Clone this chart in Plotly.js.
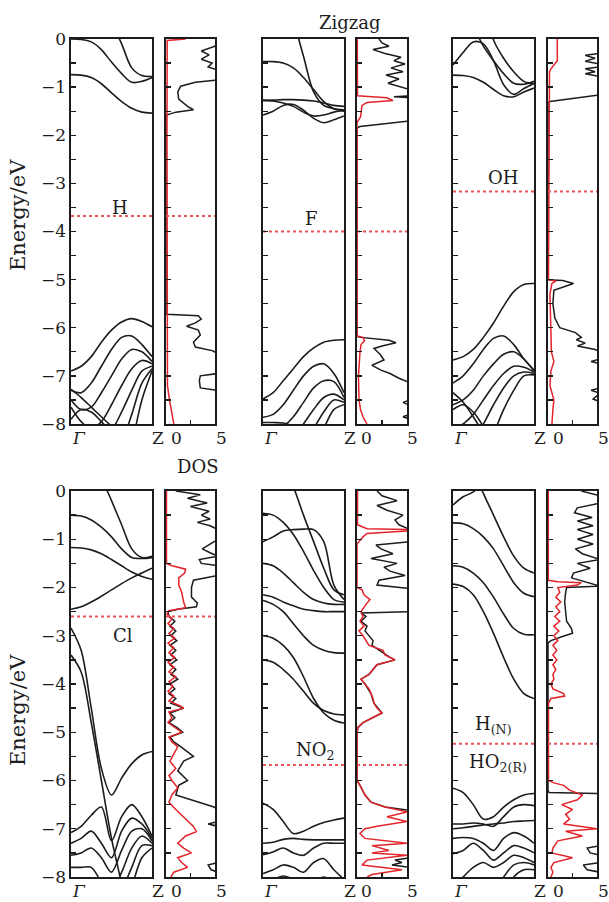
<!DOCTYPE html>
<html><head><meta charset="utf-8">
<script src="https://cdn.plot.ly/plotly-3.0.1.min.js"></script>
<style>html,body{margin:0;padding:0;background:#fff}</style>
</head><body><div id="chart" style="width:609px;height:902px"></div>
<script>
// k-points from Γ (0) to Z (1)
const K = [0,0.125,0.25,0.375,0.5,0.625,0.75,0.875,1];

// ---- band energies (eV) on K ----
const bandsH = [
 [0,-0.01,-0.06,-0.22,-0.48,-0.72,-0.9,-0.88,-0.8],
 [2.5,2.0,1.4,0.85,0.35,-0.1,-0.6,-0.76,-0.78],
 [-0.74,-0.75,-0.8,-0.93,-1.12,-1.3,-1.44,-1.52,-1.54],
 [-6.9,-6.8,-6.6,-6.3,-6.05,-5.88,-5.81,-5.87,-5.98],
 [-7.3,-7.35,-7.15,-6.8,-6.45,-6.2,-6.17,-6.35,-6.6],
 [-7.5,-7.7,-7.65,-7.35,-7.0,-6.65,-6.45,-6.5,-6.7],
 [-7.65,-7.95,-8.1,-7.95,-7.6,-7.2,-6.85,-6.68,-6.75],
 [-8.3,-8.4,-8.5,-8.4,-8.15,-7.75,-7.3,-6.9,-6.8],
 [-8.8,-8.9,-9,-9,-8.8,-8.4,-7.8,-7.15,-6.85],
 [-9.5,-9.5,-9.5,-9.5,-9.4,-9.0,-8.4,-7.5,-6.9],
 [-7.28,-7.45,-7.65,-7.85,-8.05,-8.3,-8.5,-8.7,-8.9],
 [-7.9,-7.7,-7.75,-7.95,-8.2,-8.5,-8.8,-9.1,-9.4]
];
const bandsF = [
 [2.6,1.85,1.1,0.4,-0.36,-1.1,-1.38,-1.45,-1.47],
 [-0.47,-0.47,-0.5,-0.6,-0.8,-1.05,-1.3,-1.45,-1.5],
 [-1.28,-1.27,-1.26,-1.26,-1.27,-1.29,-1.33,-1.38,-1.4],
 [-1.58,-1.5,-1.38,-1.36,-1.48,-1.65,-1.74,-1.68,-1.6],
 [-1.27,-1.29,-1.33,-1.4,-1.52,-1.6,-1.58,-1.52,-1.48],
 [-7.48,-7.35,-7.1,-6.85,-6.6,-6.42,-6.3,-6.26,-6.25],
 [-7.86,-7.8,-7.6,-7.3,-7.0,-6.8,-6.75,-6.95,-7.35],
 [-8.1,-8.15,-8.05,-7.85,-7.55,-7.25,-7.1,-7.12,-7.45],
 [-8.6,-8.6,-8.5,-8.3,-8.0,-7.7,-7.45,-7.38,-7.5],
 [-9,-9,-8.95,-8.8,-8.5,-8.1,-7.75,-7.5,-7.55],
 [-9.5,-9.5,-9.5,-9.4,-9.1,-8.6,-8.1,-7.7,-7.6],
 [-7.97,-7.97,-7.98,-8.05,-8.2,-8.4,-8.6,-8.8,-9]
];
const bandsOH = [
 [-0.54,-0.28,-0.06,-0.1,-0.45,-0.95,-1.15,-1.03,-0.92],
 [1.4,0.9,0.3,-0.15,-0.45,-0.72,-0.92,-0.94,-0.88],
 [3,2.3,1.5,0.7,-0.02,-0.4,-0.68,-0.88,-0.93],
 [-0.75,-0.76,-0.8,-0.9,-1.05,-1.18,-1.2,-1.1,-1.02],
 [-6.67,-6.6,-6.45,-6.2,-5.9,-5.55,-5.25,-5.1,-5.08],
 [-7.15,-7.0,-6.75,-6.45,-6.22,-6.17,-6.35,-6.65,-6.88],
 [-7.6,-7.5,-7.3,-7.0,-6.75,-6.55,-6.5,-6.65,-6.9],
 [-8.1,-8.0,-7.8,-7.5,-7.2,-6.95,-6.8,-6.82,-6.92],
 [-8.6,-8.5,-8.3,-8.0,-7.6,-7.25,-7.0,-6.92,-6.95],
 [-9.2,-9.1,-8.9,-8.6,-8.2,-7.7,-7.3,-7.0,-6.98],
 [-7.35,-7.55,-7.85,-8.2,-8.6,-9,-9.4,-9.8,-10],
 [-7.7,-7.6,-7.75,-8.05,-8.4,-8.8,-9.2,-9.6,-10]
];
const bandsCl = [
 [2.5,1.7,1.0,0.3,-0.2,-0.7,-1.2,-1.38,-1.35],
 [-0.5,-0.52,-0.6,-0.75,-0.95,-1.2,-1.38,-1.4,-1.38],
 [-1.17,-1.18,-1.22,-1.3,-1.42,-1.55,-1.68,-1.77,-1.83],
 [-2.45,-2.4,-2.3,-2.18,-2.05,-1.92,-1.8,-1.7,-1.6],
 [-2.84,-3.3,-4.5,-5.75,-6.3,-5.95,-5.65,-5.47,-5.4],
 [-3.4,-3.75,-4.8,-6.0,-7.2,-8.15,-9.3,-10.5,-11.7],
 [-7.08,-6.95,-6.72,-6.55,-7.25,-6.75,-6.5,-6.75,-7.15],
 [-7.3,-7.2,-7.05,-7.3,-7.6,-7.05,-6.78,-6.9,-7.2],
 [-7.55,-7.5,-7.4,-7.6,-7.9,-7.45,-7.05,-7.0,-7.25],
 [-7.8,-7.8,-7.8,-8.1,-8.3,-7.9,-7.4,-7.15,-7.3],
 [-8.1,-8.2,-8.3,-8.5,-8.7,-8.3,-7.8,-7.35,-7.35],
 [-8.6,-8.6,-8.7,-8.9,-9,-8.7,-8.2,-7.6,-7.4]
];
const bandsNO2 = [
 [2.0,1.35,0.7,0.1,-0.5,-1.05,-1.6,-2.05,-2.15],
 [-0.46,-0.5,-0.65,-0.9,-1.25,-1.65,-2.0,-2.25,-2.3],
 [-1.05,-0.95,-0.83,-0.8,-0.79,-0.8,-1.05,-1.95,-2.25],
 [-1.5,-1.55,-1.7,-1.9,-2.1,-2.25,-2.32,-2.35,-2.35],
 [-2.15,-2.2,-2.3,-2.38,-2.45,-2.48,-2.5,-2.5,-2.5],
 [-2.27,-2.35,-2.5,-2.75,-3.0,-3.2,-3.3,-3.35,-3.36],
 [-3.5,-3.55,-3.7,-3.9,-4.15,-4.4,-4.55,-4.62,-4.64],
 [-3.0,-3.05,-3.2,-3.45,-3.85,-4.3,-4.6,-4.75,-4.81],
 [-6.47,-6.6,-6.85,-7.1,-7.05,-6.95,-6.87,-6.82,-6.78],
 [-7.3,-7.28,-7.22,-7.2,-7.22,-7.23,-7.23,-7.23,-7.23],
 [-7.54,-7.48,-7.4,-7.5,-7.55,-7.4,-7.3,-7.3,-7.3],
 [-7.93,-7.85,-7.75,-7.8,-7.9,-7.7,-7.62,-7.85,-8.05],
 [-8.1,-8.05,-7.98,-8.05,-8.2,-8.1,-8.0,-8.1,-8.2]
];
const bandsHN = [
 [-0.29,-0.12,-0.02,0.2,0.6,1.0,1.3,1.5,1.6],
 [1.5,1.0,0.45,-0.05,-0.5,-0.95,-1.35,-1.6,-1.7],
 [-0.66,-0.68,-0.78,-0.95,-1.2,-1.55,-1.9,-2.12,-2.19],
 [-1.55,-1.58,-1.7,-1.9,-2.2,-2.55,-2.85,-2.97,-2.98],
 [-1.93,-1.98,-2.15,-2.5,-2.95,-3.45,-3.9,-4.2,-4.3],
 [-6.16,-6.25,-6.5,-6.8,-6.75,-6.55,-6.4,-6.3,-6.27],
 [-6.9,-6.9,-6.88,-6.9,-6.95,-6.75,-6.55,-6.5,-6.52],
 [-7.0,-6.98,-6.95,-6.92,-6.9,-6.88,-6.85,-6.84,-6.83],
 [-7.2,-7.18,-7.2,-7.3,-7.45,-7.2,-7.08,-7.15,-7.3],
 [-7.52,-7.45,-7.3,-7.45,-7.65,-7.5,-7.35,-7.4,-7.5],
 [-8.2,-8.0,-7.8,-7.7,-7.8,-7.7,-7.55,-7.6,-7.7],
 [-9,-9,-8.9,-8.6,-8.3,-8.0,-7.75,-7.7,-7.75],
 [-9.5,-9.5,-9.3,-9.1,-8.8,-8.4,-8.0,-7.85,-7.85]
];

// ---- DOS: [energy, DOS] pairs; total (black) and partial (red) ----
const dosH_tot = [[0,5.3],[-0.15,5.0],[-0.25,3.6],[-0.33,4.4],[-0.42,3.6],[-0.5,4.7],[-0.58,4.3],[-0.65,5.3],[-0.85,5.3],[-0.9,3.0],[-0.98,1.5],[-1.1,1.2],[-1.25,1.3],[-1.4,2.2],[-1.47,2.8],[-1.52,1.0],[-1.57,0.2],[-1.6,0],[-5.72,0],[-5.75,3.3],[-5.82,3.6],[-5.9,3.0],[-5.97,2.1],[-6.05,3.3],[-6.15,3.5],[-6.3,2.8],[-6.4,3.0],[-6.48,4.8],[-6.55,5.3],[-6.95,5.3],[-7.0,3.5],[-7.1,3.4],[-7.25,3.5],[-7.3,5.3],[-8,5.3]];
const dosH_part = [[0,2.0],[-0.03,0.12],[-2,0.1],[-5,0.1],[-7.2,0.15],[-7.5,0.35],[-7.8,0.6],[-8,0.8]];
const dosF_tot = [[0,2.2],[-0.08,2.5],[-0.15,3.2],[-0.22,1.6],[-0.3,2.8],[-0.38,4.4],[-0.45,3.7],[-0.52,4.8],[-0.6,3.4],[-0.68,4.6],[-0.75,2.9],[-0.83,4.2],[-0.92,3.1],[-1.0,4.6],[-1.05,5.3],[-1.18,5.3],[-1.2,3.7],[-1.22,5.3],[-1.7,5.3],[-1.82,0.3],[-1.85,0],[-6.18,0],[-6.2,0.4],[-6.26,3.2],[-6.31,3.9],[-6.38,2.5],[-6.43,1.7],[-6.55,2.3],[-6.67,2.7],[-6.78,1.5],[-6.88,2.4],[-6.95,3.3],[-7.05,4.2],[-7.12,5.0],[-7.15,5.3],[-7.5,5.3],[-7.55,4.6],[-7.62,5.3],[-7.8,5.3],[-7.85,4.6],[-7.9,5.3],[-8,5.3]];
const dosF_part = [[0,0.03],[-1.18,0.05],[-1.2,1.5],[-1.22,3.0],[-1.28,3.6],[-1.32,1.0],[-1.38,0.5],[-1.5,0.4],[-1.62,0.35],[-1.7,0.1],[-1.75,0],[-6.17,0],[-6.2,0.6],[-6.27,0.75],[-6.35,0.4],[-6.5,0.3],[-7.0,0.15],[-7.5,0.2],[-7.7,0.35],[-7.85,0.6],[-8,1.0]];
const dosOH_tot = [[0,5.3],[-0.3,5.3],[-0.34,3.8],[-0.4,4.8],[-0.46,3.8],[-0.52,5.3],[-0.58,5.3],[-0.62,3.8],[-0.68,4.8],[-0.72,3.8],[-0.78,5.3],[-1.16,5.3],[-1.3,0.2],[-1.32,0],[-5.0,0],[-5.02,1.5],[-5.08,2.6],[-5.15,1.5],[-5.22,0.6],[-5.5,0.5],[-5.8,0.7],[-6.0,1.2],[-6.1,2.8],[-6.2,3.4],[-6.25,2.9],[-6.32,3.8],[-6.38,3.0],[-6.45,4.8],[-6.5,5.3],[-6.65,5.3],[-6.7,4.4],[-6.75,5.3],[-7.25,5.3],[-7.3,4.4],[-7.36,5.3],[-7.48,4.6],[-7.54,5.3],[-8,5.3]];
const dosOH_part = [[0,0.95],[-0.4,0.9],[-0.45,0.95],[-0.62,0.3],[-0.68,0.15],[-3,0.1],[-5.0,0.05],[-5.03,0.8],[-5.08,0.4],[-5.3,0.2],[-6.0,0.25],[-6.5,0.35],[-6.7,0.6],[-6.9,0.3],[-7.2,0.2],[-7.5,0.6],[-7.7,0.5],[-8,0.4]];
const dosCl_tot = [[0,1.0],[-0.08,3.5],[-0.15,2.2],[-0.25,4.2],[-0.32,2.5],[-0.42,4.4],[-0.5,3.6],[-0.58,4.5],[-0.65,3.2],[-0.72,4.5],[-0.8,5.3],[-1.0,5.3],[-1.1,4.5],[-1.2,3.7],[-1.28,4.5],[-1.35,5.3],[-1.42,3.4],[-1.5,3.6],[-1.55,5.3],[-1.75,5.3],[-1.85,2.8],[-2.0,2.6],[-2.2,2.6],[-2.32,3.2],[-2.4,3.1],[-2.45,1.2],[-2.5,0.2],[-2.6,0.3],[-2.7,0.9],[-2.8,0.4],[-2.9,1.0],[-3.0,0.5],[-3.1,1.1],[-3.2,0.4],[-3.3,1.0],[-3.4,0.5],[-3.5,1.1],[-3.6,0.4],[-3.7,1.0],[-3.8,0.5],[-3.9,1.2],[-4.0,0.4],[-4.1,0.9],[-4.2,0.3],[-4.3,1.0],[-4.4,0.5],[-4.5,1.8],[-4.6,0.4],[-4.7,0.9],[-4.8,0.3],[-4.9,1.1],[-5.0,1.7],[-5.1,0.4],[-5.2,0.8],[-5.3,1.5],[-5.4,2.2],[-5.5,2.8],[-5.6,1.8],[-5.8,1.2],[-6.0,2.2],[-6.1,1.3],[-6.3,1.0],[-6.45,3.5],[-6.55,4.9],[-6.6,5.3],[-6.85,5.3],[-6.9,4.3],[-6.95,5.3],[-7.7,5.3],[-7.75,4.3],[-7.85,4.6],[-7.9,5.3],[-8,5.3]];
const dosCl_part = [[0,0.05],[-1.5,0.05],[-1.55,0.6],[-1.62,2.0],[-1.7,1.9],[-1.8,1.3],[-1.95,1.3],[-2.1,1.6],[-2.3,1.8],[-2.42,2.0],[-2.48,0.3],[-2.55,0.1],[-2.65,0.6],[-2.75,0.2],[-2.85,0.8],[-2.95,0.3],[-3.05,0.9],[-3.15,0.2],[-3.25,0.8],[-3.35,0.3],[-3.45,0.9],[-3.55,0.2],[-3.65,0.8],[-3.75,0.3],[-3.85,1.0],[-3.95,0.3],[-4.05,0.7],[-4.15,0.2],[-4.25,0.8],[-4.35,0.3],[-4.45,1.4],[-4.5,1.8],[-4.58,0.3],[-4.7,0.6],[-4.8,0.2],[-4.9,0.9],[-5.0,1.6],[-5.1,0.3],[-5.2,0.6],[-5.3,1.2],[-5.45,0.8],[-5.6,0.4],[-5.75,1.0],[-5.9,0.3],[-6.0,0.6],[-6.15,1.2],[-6.3,0.6],[-6.45,0.3],[-6.6,1.0],[-6.8,2.0],[-6.95,2.8],[-7.06,3.1],[-7.15,2.0],[-7.3,1.2],[-7.4,1.8],[-7.5,2.6],[-7.6,1.2],[-7.7,1.6],[-7.8,2.2],[-7.9,0.8],[-8,0.5]];
const dosNO2_tot = [[0,2.0],[-0.1,2.5],[-0.2,4.0],[-0.3,2.0],[-0.4,3.0],[-0.5,4.6],[-0.6,3.8],[-0.7,4.2],[-0.8,5.3],[-1.05,5.3],[-1.12,1.9],[-1.2,2.4],[-1.3,3.6],[-1.4,1.4],[-1.5,4.0],[-1.58,2.7],[-1.66,3.3],[-1.75,4.8],[-1.85,2.2],[-1.95,2.0],[-2.02,5.3],[-2.5,5.3],[-2.53,0.4],[-2.6,0.9],[-2.7,0.4],[-2.8,1.0],[-2.9,0.8],[-3.0,1.2],[-3.1,1.6],[-3.2,1.5],[-3.3,2.2],[-3.45,3.3],[-3.5,3.8],[-3.6,2.0],[-3.7,1.6],[-3.8,1.2],[-3.9,0.4],[-4.0,0.8],[-4.2,1.4],[-4.4,1.7],[-4.6,2.5],[-4.7,1.5],[-4.8,0.6],[-4.9,0.1],[-5.0,0],[-6.0,0],[-6.1,0.3],[-6.3,0.8],[-6.45,1.4],[-6.55,2.8],[-6.62,5.3],[-7.6,5.3],[-7.65,3.8],[-7.7,4.5],[-7.75,3.5],[-7.8,5.3],[-8,5.3]];
const dosNO2_part = [[0,0.05],[-0.7,0.05],[-0.78,1.0],[-0.8,5.0],[-0.83,5.0],[-0.88,1.0],[-0.95,0.6],[-1.05,0.2],[-1.1,0],[-2.0,0],[-2.05,0.5],[-2.15,0.7],[-2.25,1.3],[-2.35,0.9],[-2.5,0.4],[-2.6,0.6],[-2.7,0.3],[-2.8,0.7],[-2.9,0.2],[-3.0,0.6],[-3.1,0.9],[-3.2,1.2],[-3.3,2.6],[-3.4,2.8],[-3.5,3.8],[-3.6,2.0],[-3.7,1.6],[-3.8,1.2],[-3.9,0.4],[-4.0,0.8],[-4.1,1.2],[-4.2,1.4],[-4.3,1.6],[-4.4,1.7],[-4.5,2.0],[-4.6,2.5],[-4.7,1.5],[-4.8,0.6],[-4.9,0.1],[-5.0,0],[-6.0,0],[-6.1,0.3],[-6.3,0.8],[-6.45,1.4],[-6.55,2.8],[-6.65,5.0],[-6.75,3.0],[-6.85,5.0],[-6.95,2.0],[-7.0,0.8],[-7.1,0.3],[-7.2,0.8],[-7.3,5],[-7.35,1.5],[-7.45,3.2],[-7.5,1.5],[-7.55,5],[-7.65,1.0],[-7.75,0.5],[-7.85,4.5],[-7.95,1.5],[-8,1.0]];
const dosHN_tot = [[0,3.4],[-0.1,5.3],[-0.25,5.3],[-0.35,3.0],[-0.45,2.7],[-0.55,4.5],[-0.62,3.0],[-0.72,4.6],[-0.8,3.0],[-0.9,4.6],[-1.0,3.0],[-1.1,4.6],[-1.2,2.8],[-1.3,3.5],[-1.42,5.3],[-1.5,3.0],[-1.6,4.3],[-1.7,2.6],[-1.8,2.4],[-1.9,4.0],[-1.97,5.3],[-2.0,1.9],[-2.1,1.8],[-2.3,1.7],[-2.5,1.8],[-2.7,1.9],[-2.85,2.4],[-2.95,2.5],[-3.02,1.4],[-3.1,0.3],[-3.15,0],[-6.2,0],[-6.25,0.1],[-6.27,5.3],[-7.35,5.3],[-7.4,4.0],[-7.5,4.3],[-7.55,5.3],[-7.7,5.3],[-7.75,3.6],[-7.85,4.0],[-7.9,5.3],[-8,5.3]];
const dosHN_part = [[0,0.03],[-1.85,0.03],[-1.88,1.0],[-1.9,3.4],[-1.95,3.0],[-2.0,1.0],[-2.1,1.2],[-2.2,0.8],[-2.3,1.3],[-2.4,0.8],[-2.5,1.2],[-2.6,0.7],[-2.7,1.2],[-2.8,0.6],[-2.9,1.1],[-3.0,0.6],[-3.1,1.0],[-3.2,0.5],[-3.3,0.9],[-3.4,0.5],[-3.5,0.9],[-3.6,0.5],[-3.7,0.8],[-3.8,0.5],[-3.9,0.6],[-4.0,0.3],[-4.1,0.5],[-4.2,1.6],[-4.25,1.7],[-4.3,0.3],[-4.4,0.05],[-6.0,0.05],[-6.05,0.6],[-6.1,1.6],[-6.2,2.2],[-6.3,3.5],[-6.4,3.0],[-6.5,1.4],[-6.6,2.5],[-6.7,1.8],[-6.8,2.2],[-6.9,1.6],[-7.0,5.0],[-7.05,1.8],[-7.15,3.5],[-7.25,1.0],[-7.4,0.5],[-7.5,0.4],[-7.6,2.5],[-7.7,0.6],[-7.8,0.3],[-7.9,0.5],[-8,0.3]];

// Fermi levels (eV)
const fermi = [-3.68, -4.0, -3.17, -2.6, -5.68, -5.24];
const panelNames = ['H','F','OH','Cl','NO<sub>2</sub>','H<sub>(N)</sub>'];
const yTickVals = [0,-0.5,-1,-1.5,-2,-2.5,-3,-3.5,-4,-4.5,-5,-5.5,-6,-6.5,-7,-7.5,-8];
const yTickText = yTickVals.map(v => Number.isInteger(v) ? (v===0 ? '0' : '\u2212'+Math.abs(v)) : ' ');
const dosTickVals = [0,5];
const kLabels = ['<i>Γ</i>','Z'];

// ---- layout geometry (pixels) ----
const W = 609, H = 902;
const colBand = [[71,152],[263,344],[453,534]];
const colDos  = [[166,215],[357,407],[548,597]];
const rows = [[39,424],[491,877]];
const FONT = 'DejaVu Serif, serif';
const INK = '#1c1c1c', RED = '#e3242b', FERMI = '#e8565c';

const bandSets = [bandsH,bandsF,bandsOH,bandsCl,bandsNO2,bandsHN];
const dosTot = [dosH_tot,dosF_tot,dosOH_tot,dosCl_tot,dosNO2_tot,dosHN_tot];
const dosPart = [dosH_part,dosF_part,dosOH_part,dosCl_part,dosNO2_part,dosHN_part];

const traces = [], layout = {
  width: W, height: H, margin: {l:0,r:0,t:0,b:0},
  paper_bgcolor: '#fff', plot_bgcolor: '#fff', showlegend: false,
  font: {family: FONT, color: INK, size: 17}, annotations: []
};
const nm = n => n===1 ? '' : String(n);

for (let p = 0; p < 6; p++) {
  const r = Math.floor(p/3), c = p % 3;
  const nb = 2*p+1, nd = 2*p+2;
  const yd = [1 - rows[r][1]/H, 1 - rows[r][0]/H];
  const baseX = {showline:true, mirror:true, linecolor:INK, linewidth:1.6, zeroline:false, showgrid:false, fixedrange:true};
  const baseY = Object.assign({}, baseX, {range:[-8,0], domain:yd, tickmode:'array', tickvals:yTickVals, ticktext:yTickText,
     ticks:'inside', ticklen:5, tickwidth:1.3, tickcolor:INK,
     tickfont:{family:FONT, size:17, color:INK}});
  layout['xaxis'+nm(nb)] = Object.assign({}, baseX, {domain:[colBand[c][0]/W, colBand[c][1]/W], range:[0,1], anchor:'y'+nm(nb), ticks:'', showticklabels:false});
  layout['yaxis'+nm(nb)] = Object.assign({}, baseY, {anchor:'x'+nm(nb), showticklabels: c===0});
  layout['xaxis'+nm(nd)] = Object.assign({}, baseX, {domain:[colDos[c][0]/W, colDos[c][1]/W], range:[0,5], anchor:'y'+nm(nd), tickmode:'array', tickvals:[2.5], ticktext:[' '], ticks:'inside', ticklen:4, tickwidth:1.3, tickcolor:INK, showticklabels:false});
  layout['yaxis'+nm(nd)] = Object.assign({}, baseY, {anchor:'x'+nm(nd), showticklabels:false});

  const xa = 'x'+nm(nb), ya = 'y'+nm(nb), xd = 'x'+nm(nd), ydn = 'y'+nm(nd);
  bandSets[p].forEach(b => traces.push({x:K, y:b, xaxis:xa, yaxis:ya, mode:'lines', hoverinfo:'skip',
      line:{color:INK, width:1.6, shape:'spline', smoothing:0.9}}));
  traces.push({x:[0,1], y:[fermi[p],fermi[p]], xaxis:xa, yaxis:ya, mode:'lines', hoverinfo:'skip',
      line:{color:FERMI, width:2, dash:'dot'}});
  traces.push({x:dosTot[p].map(d=>d[1]), y:dosTot[p].map(d=>d[0]), xaxis:xd, yaxis:ydn, mode:'lines', hoverinfo:'skip',
      line:{color:INK, width:1.5}});
  traces.push({x:dosPart[p].map(d=>d[1]), y:dosPart[p].map(d=>d[0]), xaxis:xd, yaxis:ydn, mode:'lines', hoverinfo:'skip',
      line:{color:RED, width:1.5}});
  traces.push({x:[0,5], y:[fermi[p],fermi[p]], xaxis:xd, yaxis:ydn, mode:'lines', hoverinfo:'skip',
      line:{color:FERMI, width:2, dash:'dot'}});

  // k-point and DOS tick labels under each pair of panels
  const ly = 1 - (rows[r][1] + 14)/H;
  const lab = (xref, x, xshift, text) => layout.annotations.push({xref, yref:'paper', x, y:ly, xshift, text,
      showarrow:false, xanchor:'center', yanchor:'middle', font:{family:FONT, size:17, color:INK}});
  lab(xa, 0, 8, kLabels[0]);
  lab(xa, 1, 6, kLabels[1]);
  lab(xd, dosTickVals[0], 10, '0');
  lab(xd, dosTickVals[1], 6, '5');
}

// text labels
const txt = (x, y, text, size, extra) => layout.annotations.push(Object.assign({xref:'paper', yref:'paper',
   x:x/W, y:1-y/H, text, showarrow:false, xanchor:'center', yanchor:'middle', font:{family:FONT, size, color:INK}}, extra||{}));
const labelPos = [[120,207],[311,218],[503,177],[123,635],[315,751],[493,725]];
labelPos.forEach((q,i) => txt(q[0], q[1], panelNames[i], 18));
txt(498, 763, 'HO<sub>2(R)</sub>', 18);
txt(350, 22, 'Zigzag', 18);
txt(198, 467, 'DOS', 18);
txt(18, 215, 'Energy/eV', 21, {textangle:-90});
txt(18, 710, 'Energy/eV', 21, {textangle:-90});

Plotly.newPlot('chart', traces, layout, {displayModeBar:false, staticPlot:true});
</script></body></html>
